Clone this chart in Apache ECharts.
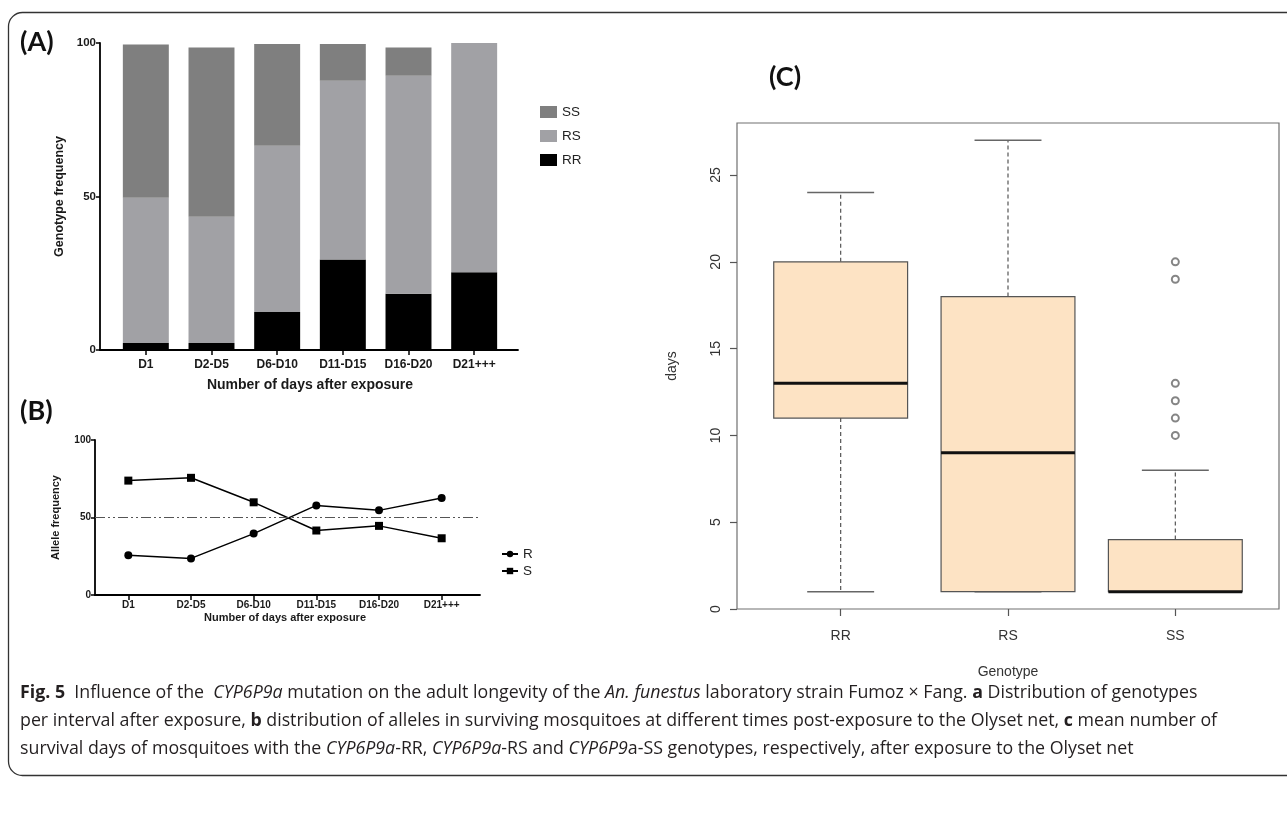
<!DOCTYPE html>
<html>
<head>
<meta charset="utf-8">
<script src="https://cdn.jsdelivr.net/npm/echarts@6/dist/echarts.min.js"></script>
<style>
html,body{margin:0;padding:0;background:#fff;}
#chart{width:1287px;height:837px;}
</style>
</head>
<body>
<div id="chart"></div>
<script>
// ---- Data ----
const daysCategories = ['D1', 'D2-D5', 'D6-D10', 'D11-D15', 'D16-D20', 'D21+++'];
const genotypeRR = [2.3, 2.3, 12.4, 29.5, 18.3, 25.3];
const genotypeRS = [47.3, 41.1, 54.1, 58.2, 71.0, 74.7];
const genotypeSS = [49.9, 55.1, 33.2, 12.0, 9.2, 0];
const alleleR = [25.6, 23.6, 39.6, 57.8, 54.6, 62.6];
const alleleS = [73.8, 75.6, 59.8, 41.6, 44.6, 36.6];
const referenceLevel = 50;
const genotypes = ['RR', 'RS', 'SS'];
// [min, Q1, median, Q3, max]
const boxRR = [1, 11, 13, 20, 24];
const boxRS = [1, 1, 9, 18, 27];
const boxSS = [1, 1, 1, 4, 8];
const outliersSS = [10, 11, 12, 13, 19, 20];
const daysTicks = [0, 5, 10, 15, 20, 25];

const boxData = [boxRR, boxRS, boxSS].map((b, i) => [i].concat(b));
const outlierData = outliersSS.map(v => [2, v]);

const ARIAL = "'Liberation Sans', Arial, sans-serif";
const CAP_FONT = "'Open Sans', sans-serif";
const CAP_SIZE = 17.8;
const chart = echarts.init(document.getElementById('chart'));

const hiddenValueAxis = (gi, max) => ({ gridIndex: gi, type: 'value', min: 0, max: max, show: false });
const capRich = {
  b: { fontWeight: 'bold', fontSize: CAP_SIZE, fontFamily: CAP_FONT, fill: '#231f20' },
  i: { fontStyle: 'italic', fontSize: CAP_SIZE, fontFamily: CAP_FONT, fill: '#231f20' }
};
const captionLine = (y, text) => ({ type: 'text', x: 20, y: y, silent: true, style: {
  text: text, fontSize: CAP_SIZE, fontFamily: CAP_FONT, fill: '#231f20',
  textVerticalAlign: 'middle', verticalAlign: 'middle', rich: capRich } });
const panelLabel = (x, y, t) => ({ type: 'text', x: x, y: y, silent: true, style: {
  text: t, fontSize: 27, fontWeight: 'bold', fontFamily: 'Lato, sans-serif', fill: '#111',
  textVerticalAlign: 'middle', verticalAlign: 'middle' } });

const option = {
  animation: false,
  backgroundColor: '#fff',
  textStyle: { fontFamily: ARIAL },
  grid: [
    { left: 113, width: 394, top: 43, height: 307 },   // 0 A data
    { left: 100, width: 418, top: 43, height: 307 },   // 1 A axes
    { left: 97, width: 376, top: 440, height: 155 },   // 2 B data
    { left: 95, width: 385, top: 440, height: 155 },   // 3 B axes
    { left: 737, right: 8, top: 123, height: 486, show: true, borderColor: '#707070', borderWidth: 1.2, backgroundColor: 'transparent' }, // 4 C frame
    { left: 757, width: 502, top: 123, height: 486 }   // 5 C data
  ],
  xAxis: [
    { gridIndex: 0, type: 'category', data: daysCategories,
      axisLine: { show: false },
      axisTick: { show: true, alignWithLabel: true, length: 5, lineStyle: { color: '#000', width: 1.5 } },
      axisLabel: { margin: 9, fontSize: 12, fontWeight: 'bold', color: '#1a1a1a', fontFamily: ARIAL, interval: 0 },
      name: 'Number of days after exposure', nameLocation: 'middle', nameGap: 28,
      nameTextStyle: { fontSize: 14, fontWeight: 'bold', color: '#1a1a1a', fontFamily: ARIAL } },
    { gridIndex: 1, type: 'value', min: 0, max: 1,
      axisLine: { show: true, lineStyle: { color: '#000', width: 1.8 } },
      axisTick: { show: false }, axisLabel: { show: false }, splitLine: { show: false } },
    { gridIndex: 2, type: 'category', data: daysCategories,
      axisLine: { show: false },
      axisTick: { show: true, alignWithLabel: true, length: 5, lineStyle: { color: '#000', width: 1.5 } },
      axisLabel: { margin: 5, fontSize: 10, fontWeight: 'bold', color: '#1a1a1a', fontFamily: ARIAL, interval: 0 },
      name: 'Number of days after exposure', nameLocation: 'middle', nameGap: 17,
      nameTextStyle: { fontSize: 11, fontWeight: 'bold', color: '#1a1a1a', fontFamily: ARIAL } },
    { gridIndex: 3, type: 'value', min: 0, max: 1,
      axisLine: { show: true, lineStyle: { color: '#000', width: 1.8 } },
      axisTick: { show: false }, axisLabel: { show: false }, splitLine: { show: false } },
    { gridIndex: 4, type: 'value', min: 0, max: 1, show: false },
    { gridIndex: 5, type: 'category', data: genotypes,
      axisLine: { show: false },
      axisTick: { show: true, alignWithLabel: true, length: 7, lineStyle: { color: '#555', width: 1.2 } },
      axisLabel: { margin: 20, fontSize: 14, color: '#333', fontFamily: ARIAL },
      name: 'Genotype', nameLocation: 'middle', nameGap: 56,
      nameTextStyle: { fontSize: 14, color: '#333', fontFamily: ARIAL } }
  ],
  yAxis: [
    hiddenValueAxis(0, 100),
    { gridIndex: 1, type: 'value', min: 0, max: 100, interval: 50,
      axisLine: { show: true, lineStyle: { color: '#000', width: 1.8 } },
      axisTick: { show: true, length: 4, lineStyle: { color: '#000', width: 1.5 } },
      axisLabel: { margin: 4, fontSize: 11.5, fontWeight: 'bold', color: '#1a1a1a', fontFamily: ARIAL },
      splitLine: { show: false },
      name: 'Genotype frequency', nameLocation: 'middle', nameRotate: 90, nameGap: 34,
      nameTextStyle: { fontSize: 12.5, fontWeight: 'bold', color: '#1a1a1a', fontFamily: ARIAL } },
    hiddenValueAxis(2, 100),
    { gridIndex: 3, type: 'value', min: 0, max: 100, interval: 50,
      axisLine: { show: true, lineStyle: { color: '#000', width: 1.8 } },
      axisTick: { show: true, length: 4, lineStyle: { color: '#000', width: 1.5 } },
      axisLabel: { margin: 4, fontSize: 10, fontWeight: 'bold', color: '#1a1a1a', fontFamily: ARIAL },
      splitLine: { show: false },
      name: 'Allele frequency', nameLocation: 'middle', nameRotate: 90, nameGap: 34,
      nameTextStyle: { fontSize: 11, fontWeight: 'bold', color: '#1a1a1a', fontFamily: ARIAL } },
    { gridIndex: 4, type: 'value', min: 0, max: 28,
      axisLine: { show: false },
      axisTick: { show: true, length: 7, customValues: daysTicks, lineStyle: { color: '#555', width: 1.2 } },
      axisLabel: { rotate: 90, margin: 14, fontSize: 14, color: '#333', fontFamily: ARIAL, customValues: daysTicks },
      splitLine: { show: false },
      name: 'days', nameLocation: 'middle', nameRotate: 90, nameGap: 58,
      nameTextStyle: { fontSize: 14, color: '#333', fontFamily: ARIAL } },
    hiddenValueAxis(5, 28)
  ],
  legend: [
    { data: ['SS', 'RS', 'RR'], orient: 'vertical', left: 535, top: 100, icon: 'rect',
      itemWidth: 17, itemHeight: 12, itemGap: 10,
      textStyle: { fontSize: 13.5, color: '#222', fontFamily: ARIAL } },
    { data: ['R', 'S'], orient: 'vertical', left: 496, top: 542,
      itemWidth: 16, itemHeight: 8, itemGap: 3,
      textStyle: { fontSize: 13.5, color: '#222', fontFamily: ARIAL } }
  ],
  series: [
    { name: 'RR', type: 'bar', stack: 'g', xAxisIndex: 0, yAxisIndex: 0, barWidth: '70%', data: genotypeRR, itemStyle: { color: '#000000' } },
    { name: 'RS', type: 'bar', stack: 'g', xAxisIndex: 0, yAxisIndex: 0, barWidth: '70%', data: genotypeRS, itemStyle: { color: '#a1a1a5' } },
    { name: 'SS', type: 'bar', stack: 'g', xAxisIndex: 0, yAxisIndex: 0, barWidth: '70%', data: genotypeSS, itemStyle: { color: '#7f7f7f' } },
    { name: 'R', type: 'line', xAxisIndex: 2, yAxisIndex: 2, data: alleleR, symbol: 'circle', symbolSize: 8,
      lineStyle: { color: '#000', width: 1.5 }, itemStyle: { color: '#000' } },
    { name: 'S', type: 'line', xAxisIndex: 2, yAxisIndex: 2, data: alleleS, symbol: 'rect', symbolSize: 8,
      lineStyle: { color: '#000', width: 1.5 }, itemStyle: { color: '#000' } },
    { name: 'ref', type: 'line', xAxisIndex: 3, yAxisIndex: 3, data: [], silent: true,
      markLine: { silent: true, symbol: 'none', label: { show: false },
        lineStyle: { color: '#555', width: 1, type: [10, 3, 2, 3, 2, 3] },
        data: [{ yAxis: referenceLevel }] } },
    { name: 'box', type: 'custom', xAxisIndex: 5, yAxisIndex: 5, data: boxData,
      renderItem: function (params, api) {
        const i = api.value(0);
        const lo = api.coord([i, api.value(1)]);
        const q1 = api.coord([i, api.value(2)]);
        const md = api.coord([i, api.value(3)]);
        const q3 = api.coord([i, api.value(4)]);
        const hi = api.coord([i, api.value(5)]);
        const bw = api.size([1, 0])[0] * 0.8;
        const cx = lo[0];
        const whisk = { stroke: '#555', lineWidth: 1.2, lineDash: [4, 3] };
        const cap = { stroke: '#666', lineWidth: 1.5 };
        return { type: 'group', children: [
          { type: 'line', shape: { x1: cx, y1: q3[1], x2: cx, y2: hi[1] }, style: whisk },
          { type: 'line', shape: { x1: cx, y1: q1[1], x2: cx, y2: lo[1] }, style: whisk },
          { type: 'line', shape: { x1: cx - bw / 4, y1: hi[1], x2: cx + bw / 4, y2: hi[1] }, style: cap },
          { type: 'line', shape: { x1: cx - bw / 4, y1: lo[1], x2: cx + bw / 4, y2: lo[1] }, style: cap },
          { type: 'rect', shape: { x: cx - bw / 2, y: q3[1], width: bw, height: q1[1] - q3[1] },
            style: { fill: '#FDE3C4', stroke: '#555', lineWidth: 1.2 } },
          { type: 'line', shape: { x1: cx - bw / 2, y1: md[1], x2: cx + bw / 2, y2: md[1] },
            style: { stroke: '#111', lineWidth: 3 } }
        ] };
      } },
    { name: 'outliers', type: 'scatter', xAxisIndex: 5, yAxisIndex: 5, data: outlierData,
      symbol: 'emptyCircle', symbolSize: 7, itemStyle: { color: '#666', borderWidth: 1.2 } }
  ],
  graphic: [
    { type: 'rect', silent: true, z: -10, shape: { x: 8.5, y: 12.5, width: 1300, height: 763, r: 14 },
      style: { fill: 'none', stroke: '#333', lineWidth: 1.3 } },
    panelLabel(20, 42, '(A)'),
    panelLabel(20, 411, '(B)'),
    panelLabel(769, 77, '(C)'),
    captionLine(693, '{b|Fig. 5}  Influence of the  {i|CYP6P9a} mutation on the adult longevity of the {i|An. funestus} laboratory strain Fumoz \u00d7 Fang. {b|a} Distribution of genotypes'),
    captionLine(721, 'per interval after exposure, {b|b} distribution of alleles in surviving mosquitoes at different times post-exposure to the Olyset net, {b|c} mean number of'),
    captionLine(749, 'survival days of mosquitoes with the {i|CYP6P9a}-RR, {i|CYP6P9a}-RS and {i|CYP6P9}a-SS genotypes, respectively, after exposure to the Olyset net')
  ]
};
chart.setOption(option);
</script>
</body>
</html>
